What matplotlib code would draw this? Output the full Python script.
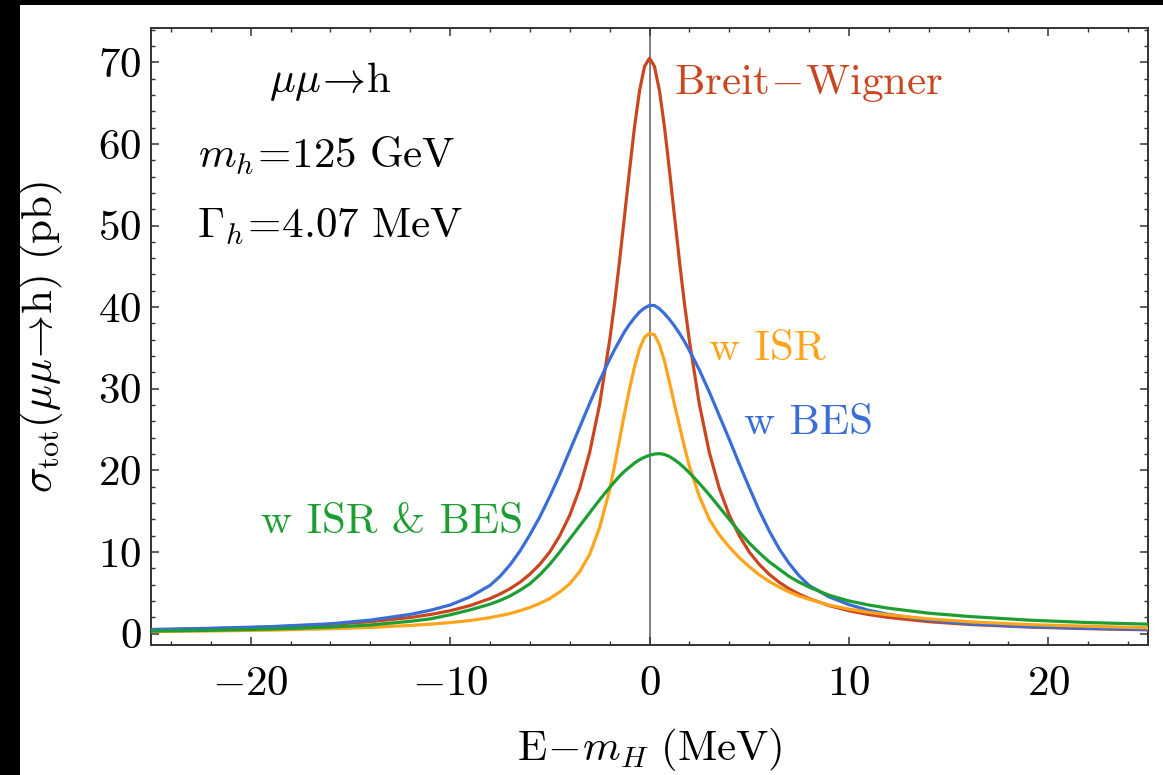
import matplotlib
matplotlib.use('Agg')
import matplotlib.pyplot as plt
from matplotlib.patches import Rectangle
from matplotlib.ticker import MultipleLocator

plt.rcParams['font.family'] = 'serif'
plt.rcParams['font.serif'] = ['cmr10']
plt.rcParams['mathtext.fontset'] = 'cm'
plt.rcParams['axes.formatter.use_mathtext'] = True

# energy offset E - m_H (MeV), shared by all curves
x = [-25, -22, -19, -16, -14, -12, -11, -10, -9, -8, -7.5, -7, -6.5, -6, -5.5, -5, -4.5,
     -4, -3.5, -3, -2.5, -2, -1.75, -1.5, -1.25, -1, -0.75, -0.5, -0.25, 0, 0.25, 0.5,
     0.75, 1, 1.25, 1.5, 1.75, 2, 2.5, 3, 3.5, 4, 4.5, 5, 5.5, 6, 6.5, 7, 7.5, 8, 9, 10,
     11, 12, 14, 16, 19, 22, 25]

# cross sections (pb)
breit_wigner = [0.46, 0.60, 0.80, 1.12, 1.46, 1.97, 2.33, 2.80, 3.43, 4.29, 4.84, 5.49, 6.29,
                7.27, 8.49, 10.0, 12.0, 14.5, 17.8, 22.2, 28.1, 35.9, 40.5, 45.7, 51.2, 56.8,
                62.1, 66.5, 69.5, 70.5, 69.5, 66.5, 62.1, 56.8, 51.2, 45.7, 40.5, 35.9, 28.1,
                22.2, 17.8, 14.5, 12.0, 10.0, 8.49, 7.27, 6.29, 5.49, 4.84, 4.29, 3.43, 2.80,
                2.33, 1.97, 1.46, 1.12, 0.80, 0.60, 0.46]
w_isr = [0.25, 0.32, 0.42, 0.6, 0.75, 1.0, 1.15, 1.35, 1.6, 1.95, 2.2, 2.45, 2.8, 3.2, 3.7,
         4.3, 5.1, 6.1, 7.6, 9.7, 13.0, 17.6, 20.6, 23.8, 27.0, 30.0, 32.7, 34.9, 36.3, 36.8,
         36.6, 35.4, 33.4, 30.8, 28.1, 25.5, 22.9, 20.5, 16.8, 14.0, 12.1, 10.6, 9.3, 8.2,
         7.2, 6.4, 5.7, 5.1, 4.6, 4.2, 3.5, 3.0, 2.6, 2.3, 1.8, 1.45, 1.1, 0.9, 0.7]
w_bes = [0.5, 0.65, 0.85, 1.2, 1.65, 2.35, 2.85, 3.5, 4.5, 5.9, 7.0, 8.4, 10.1, 12.1, 14.3,
         16.8, 19.5, 22.4, 25.3, 28.2, 31.0, 33.6, 34.8, 35.9, 37.0, 37.9, 38.7, 39.4, 39.9,
         40.2, 40.2, 39.8, 39.2, 38.5, 37.7, 36.8, 35.8, 34.7, 32.3, 29.6, 26.7, 23.8, 20.8,
         17.9, 15.1, 12.6, 10.4, 8.6, 7.1, 5.9, 4.5, 3.55, 2.85, 2.35, 1.65, 1.2, 0.85, 0.65,
         0.5]
w_isr_bes = [0.3, 0.4, 0.55, 0.8, 1.05, 1.5, 1.8, 2.3, 2.9, 3.6, 4.05, 4.6, 5.3, 6.1, 7.2,
             8.5, 10.0, 11.6, 13.2, 14.8, 16.4, 17.9, 18.6, 19.3, 19.9, 20.4, 20.9, 21.3,
             21.6, 21.85, 22.0, 22.05, 21.95, 21.7, 21.3, 20.85, 20.3, 19.7, 18.4, 17.0,
             15.5, 14.0, 12.5, 11.1, 9.9, 8.8, 7.9, 7.0, 6.3, 5.7, 4.7, 4.0, 3.5, 3.1, 2.5,
             2.1, 1.65, 1.35, 1.15]

red = '#C9461F'
orange = '#FFA41C'
blue = '#3A6ED6'
green = '#1E9E32'
fs = 31

fig = plt.figure(figsize=(11.63, 7.75), dpi=100)
fig.patch.set_facecolor('black')
fig.patches.append(Rectangle((20 / 1163, 0), 1, 1 - 5 / 775, transform=fig.transFigure,
                             facecolor='white', edgecolor='none', zorder=-10))

ax = fig.add_axes([151 / 1163, 130 / 775, 997 / 1163, 617 / 775])
ax.axvline(0, color='#808080', lw=1.4, zorder=1)
ax.plot(x, breit_wigner, color=red, lw=2.3, zorder=3)
ax.plot(x, w_bes, color=blue, lw=2.3, zorder=3)
ax.plot(x, w_isr, color=orange, lw=2.3, zorder=3)
ax.plot(x, w_isr_bes, color=green, lw=2.3, zorder=4)

ax.set_xlim(-25, 25)
ax.set_ylim(-1.4, 74.2)
ax.xaxis.set_major_locator(MultipleLocator(10))
ax.xaxis.set_minor_locator(MultipleLocator(2))
ax.yaxis.set_major_locator(MultipleLocator(10))
ax.yaxis.set_minor_locator(MultipleLocator(2))
ax.tick_params(which='both', direction='in', top=True, right=True, color='#333333',
               labelsize=fs)
ax.tick_params(which='major', length=6, width=1.1)
ax.tick_params(which='minor', length=3, width=1.0)
ax.tick_params(axis='x', which='major', pad=15)
ax.tick_params(axis='y', which='major', pad=7)
for s in ax.spines.values():
    s.set_color('#333333')
    s.set_linewidth(1.4)

ax.set_xlabel(r'$\mathrm{E}\!-\!m_H\ (\mathrm{MeV})$', fontsize=fs)
ax.xaxis.set_label_coords(0.5, -0.132)
ax.set_ylabel(r'$\sigma_{\mathrm{tot}}(\mu\mu\!\rightarrow\!\mathrm{h})\ (\mathrm{pb})$',
              fontsize=fs)
ax.yaxis.set_label_coords(-0.086, 0.5)

ax.text(-16.0, 67.6, r'$\mu\mu\!\rightarrow\!\mathrm{h}$', fontsize=fs, ha='center', va='center')
ax.text(-16.2, 58.5, r'$m_h\!=\!125\ \mathrm{GeV}$', fontsize=fs, ha='center', va='center')
ax.text(-16.0, 49.8, r'$\Gamma_h\!=\!4.07\ \mathrm{MeV}$', fontsize=fs, ha='center', va='center')

ax.text(1.25, 67.4, r'$\mathrm{Breit}\!-\!\mathrm{Wigner}$', fontsize=fs, color=red,
        ha='left', va='center')
ax.text(3.0, 34.8, 'w ISR', fontsize=fs, color=orange, ha='left', va='center')
ax.text(4.76, 25.8, 'w BES', fontsize=fs, color=blue, ha='left', va='center')
ax.text(-6.35, 13.6, 'w ISR & BES', fontsize=fs, color=green, ha='right', va='center')

fig.savefig('out.png', dpi=100)
